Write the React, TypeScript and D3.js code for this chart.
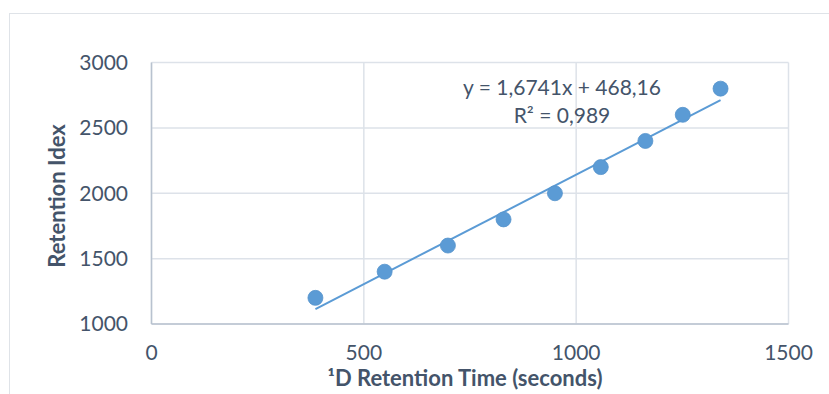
import React from "react";
import * as d3 from "d3";

const retentionTimes = [386, 549, 698, 829, 950, 1058, 1163, 1251, 1340];
const retentionIndex = [1200, 1400, 1600, 1800, 2000, 2200, 2400, 2600, 2800];
const xTicks = [0, 500, 1000, 1500];
const yTicks = [1000, 1500, 2000, 2500, 3000];
const trendSlope = 1.6741;
const trendIntercept = 468.16;
const equationLines = ["y = 1,6741x + 468,16", "R² = 0,989"];
const xTitle = "¹D Retention Time (seconds)";
const yTitle = "Retention Idex";

const W = 829;
const H = 394;
const FONT = "Lato, 'Open Sans', sans-serif";
const TEXT = "#44546A";
const BLUE = "#5B9BD5";

export default function App() {
  const x = d3.scaleLinear().domain([0, 1500]).range([151.5, 788.5]);
  const y = d3.scaleLinear().domain([1000, 3000]).range([324, 62.5]);
  const pts = retentionTimes.map((t, i) => ({ t, v: retentionIndex[i] }));
  const [xmin, xmax] = d3.extent(retentionTimes) as [number, number];
  const line = d3
    .line<number>()
    .x((d) => x(d))
    .y((d) => y(trendSlope * d + trendIntercept));

  return (
    <svg
      width={W}
      height={H}
      style={{ position: "absolute", left: 0, top: 0, background: "#fff" }}
      fontFamily={FONT}
    >
      <rect x={9.5} y={13.5} width={W + 20} height={H + 20} fill="#fff" stroke="#dfe3e8" strokeWidth={1} />
      {yTicks.map((v) => (
        <line key={"gy" + v} x1={x(0)} x2={x(1500)} y1={y(v)} y2={y(v)} stroke="#dde2e9" strokeWidth={1.5} />
      ))}
      {xTicks.map((v) => (
        <line key={"gx" + v} x1={x(v)} x2={x(v)} y1={y(1000)} y2={y(3000)} stroke="#dde2e9" strokeWidth={1.5} />
      ))}
      <line x1={x(0)} x2={x(0)} y1={y(1000)} y2={y(3000)} stroke="#b8c2cf" strokeWidth={1.5} />
      <line x1={x(0)} x2={x(1500)} y1={y(1000)} y2={y(1000)} stroke="#b8c2cf" strokeWidth={1.5} />
      {yTicks.map((v) => (
        <text key={"ty" + v} x={128} y={y(v)} dy="0.35em" textAnchor="end" fontSize={21} fill={TEXT}>
          {v}
        </text>
      ))}
      {xTicks.map((v) => (
        <text key={"tx" + v} x={x(v)} y={360} textAnchor="middle" fontSize={21} fill={TEXT}>
          {v}
        </text>
      ))}
      <text x={465} y={386} textAnchor="middle" fontSize={22} fontWeight="bold" fill={TEXT}>
        {xTitle}
      </text>
      <text
        transform={`translate(65,196) rotate(-90)`}
        textAnchor="middle"
        fontSize={22}
        fontWeight="bold"
        fill={TEXT}
      >
        {yTitle}
      </text>
      <path d={line([xmin, xmax]) || ""} fill="none" stroke={BLUE} strokeWidth={2} />
      {pts.map((p, i) => (
        <circle key={i} cx={x(p.t)} cy={y(p.v)} r={7.5} fill={BLUE} stroke="#5693cc" strokeWidth={0.8} />
      ))}
      {equationLines.map((s, i) => (
        <text key={"eq" + i} x={562} y={95 + i * 28} textAnchor="middle" fontSize={21} fill={TEXT}>
          {s}
        </text>
      ))}
    </svg>
  );
}
